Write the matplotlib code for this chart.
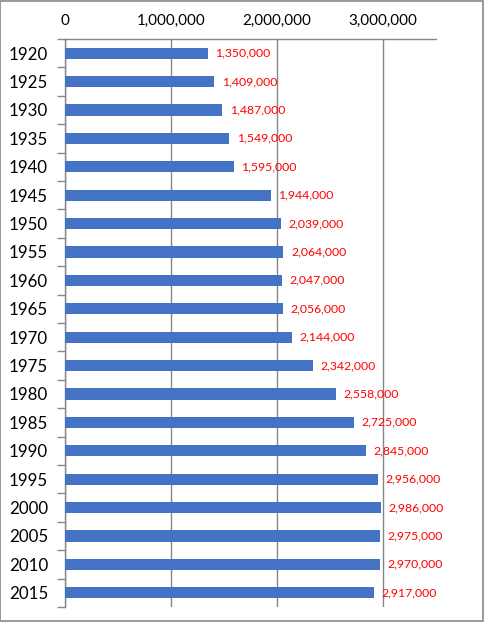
import matplotlib.pyplot as plt
import numpy as np

# population by census year
years = ['1920', '1925', '1930', '1935', '1940', '1945', '1950', '1955', '1960', '1965',
         '1970', '1975', '1980', '1985', '1990', '1995', '2000', '2005', '2010', '2015']
population = [1350000, 1409000, 1487000, 1549000, 1595000, 1944000, 2039000, 2064000,
              2047000, 2056000, 2144000, 2342000, 2558000, 2725000, 2845000, 2956000,
              2986000, 2975000, 2970000, 2917000]
x_ticks = [0, 1000000, 2000000, 3000000]

fig = plt.figure(figsize=(4.84, 6.22), dpi=100)
ax = fig.add_axes([64.7 / 484, 1 - 607 / 622, (435.7 - 64.7) / 484, (607 - 39) / 622])

pos = np.arange(len(years))
ax.barh(pos, population, height=0.4, color='#4472C4', zorder=3)

for p, v in zip(pos, population):
    ax.annotate(f'{v:,}', (v, p), xytext=(5.5, 0), textcoords='offset points',
                va='center', ha='left', color='#FF0000', fontsize=8.8, family='Lato')

ax.set_xlim(0, 3500000)
ax.set_ylim(len(years) - 0.5, -0.5)

ax.xaxis.tick_top()
ax.set_xticks(x_ticks)
ax.set_xticklabels([f'{t:,}' for t in x_ticks], family='Lato', fontsize=10.9)
ax.tick_params(axis='x', length=0, pad=8)
ax.grid(axis='x', color='#868686', linewidth=1, zorder=0)

ax.set_yticks(pos)
ax.set_yticklabels(years, family='Lato', fontsize=12.2)
ax.set_yticks(np.arange(len(years) + 1) - 0.5, minor=True)
ax.tick_params(axis='y', which='major', length=0, pad=12)
ax.tick_params(axis='y', which='minor', length=6, color='#868686', width=1)

for s in ['right', 'bottom']:
    ax.spines[s].set_visible(False)
for s in ['left', 'top']:
    ax.spines[s].set_color('#868686')
    ax.spines[s].set_linewidth(1)

# outer frame
fig.patches.append(plt.Rectangle((0.001, 0.001), 0.997, 0.997, transform=fig.transFigure,
                                 fill=False, edgecolor='#888888', linewidth=1.2))

fig.savefig('out.png', dpi=100)
